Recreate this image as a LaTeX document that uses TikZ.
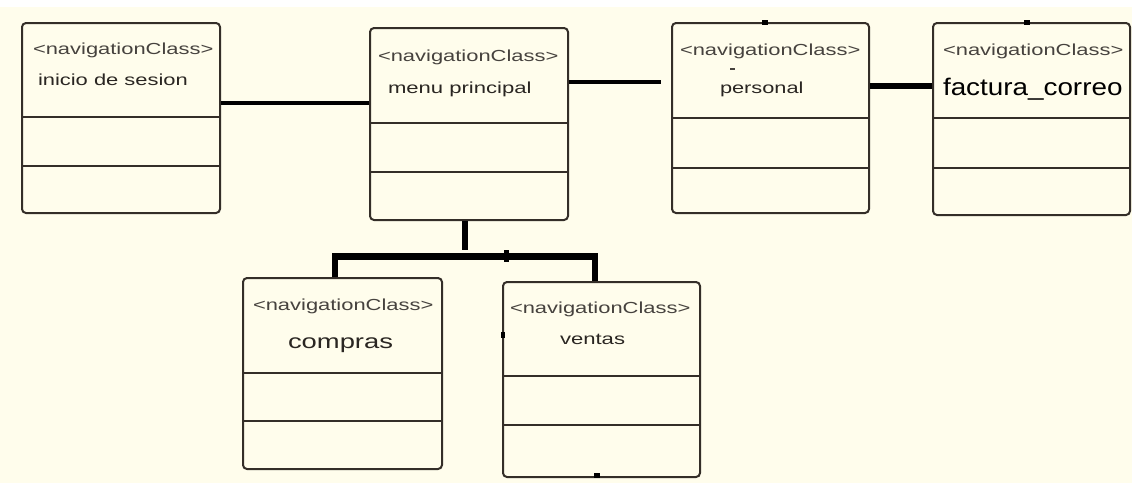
\documentclass[tikz,border=0pt]{standalone}
\usepackage{graphicx}
\usepackage{fontspec}
\setmainfont{Liberation Sans}
\definecolor{paper}{RGB}{255,253,236}
\definecolor{edge}{RGB}{52,46,40}
\definecolor{stereo}{RGB}{70,66,62}
\definecolor{cname}{RGB}{42,38,34}
% stretched sans text: #1 horizontal factor, #2 size, #3 text
\newcommand\stx[3]{\scalebox{#1}[1]{\fontsize{#2}{#2}\selectfont #3}}
\tikzset{
  umlbox/.style={draw=edge, line width=2pt, rounded corners=4pt, fill=paper, inner sep=0pt},
  divider/.style={draw=edge, line width=2pt},
  lbl/.style={anchor=base west, inner sep=0pt, outer sep=0pt},
  stereolbl/.style={lbl, text=stereo},
  namelbl/.style={lbl, text=cname},
  link/.style={draw=black, line width=5pt, line join=miter},
}
\begin{document}
\begin{tikzpicture}[x=1pt, y=-1pt]
\useasboundingbox (0,0) rectangle (1132,483);
\fill[white] (0,0) rectangle (1132,483);
\fill[paper] (0,7) rectangle (1132,483);

% class boxes
\node[umlbox, minimum width=198pt, minimum height=190pt] (inicio) at (121,118) {};
\node[umlbox, minimum width=198pt, minimum height=192pt] (menu) at (469,124) {};
\node[umlbox, minimum width=197pt, minimum height=190pt] (personal) at (770.5,118) {};
\node[umlbox, minimum width=197pt, minimum height=192pt] (factura) at (1031.5,119) {};
\node[umlbox, minimum width=199pt, minimum height=191pt] (compras) at (342.5,373.5) {};
\node[umlbox, minimum width=197pt, minimum height=195pt] (ventas) at (601.5,379.5) {};

% compartment dividers
\draw[divider] (inicio.west |- 0,117) -- (inicio.east |- 0,117);
\draw[divider] (inicio.west |- 0,166) -- (inicio.east |- 0,166);
\draw[divider] (menu.west |- 0,123) -- (menu.east |- 0,123);
\draw[divider] (menu.west |- 0,172) -- (menu.east |- 0,172);
\draw[divider] (personal.west |- 0,118) -- (personal.east |- 0,118);
\draw[divider] (personal.west |- 0,168) -- (personal.east |- 0,168);
\draw[divider] (factura.west |- 0,118) -- (factura.east |- 0,118);
\draw[divider] (factura.west |- 0,168) -- (factura.east |- 0,168);
\draw[divider] (compras.west |- 0,373) -- (compras.east |- 0,373);
\draw[divider] (compras.west |- 0,421) -- (compras.east |- 0,421);
\draw[divider] (ventas.west |- 0,376) -- (ventas.east |- 0,376);
\draw[divider] (ventas.west |- 0,425) -- (ventas.east |- 0,425);

% labels
\node[stereolbl] (s1) at (33,54) {\stx{1.37}{16}{<navigationClass>}};
\node[namelbl] (n1) at (38,85) {\stx{1.37}{16}{inicio de sesion}};
\node[stereolbl] (s2) at (378,61) {\stx{1.37}{16}{<navigationClass>}};
\node[namelbl] (n2) at (388,93) {\stx{1.38}{16}{menu principal}};
\node[stereolbl] (s3) at (680,55) {\stx{1.37}{16}{<navigationClass>}};
\node[namelbl] (n3) at (720,93) {\stx{1.36}{16}{personal}};
\node[stereolbl] (s4) at (943,55) {\stx{1.37}{16}{<navigationClass>}};
\node[lbl, text=black] (n4) at (943,95) {\stx{1.16}{24}{factura\_correo}};
\node[stereolbl] (s5) at (253,310) {\stx{1.37}{16}{<navigationClass>}};
\node[namelbl] (n5) at (288,348) {\stx{1.37}{20}{compras}};
\node[stereolbl] (s6) at (510,313) {\stx{1.37}{16}{<navigationClass>}};
\node[namelbl] (n6) at (560,344) {\stx{1.38}{16}{ventas}};
\fill[stereo] (730,68) rectangle (735,69.5);

% associations
\draw[link, line width=4pt] (inicio.east |- 0,103) -- (menu.west |- 0,103);
\draw[link, line width=4.5pt, shorten >=10pt] (menu.east |- 0,82) -- (personal.west |- 0,82);
\draw[link, line width=6pt] (personal.east |- 0,86) -- (factura.west |- 0,86);

% branch to compras and ventas
\coordinate (hub) at (465,250);
\coordinate (jl) at (335,256.5);
\coordinate (jr) at (595,256.5);
\draw[link, line width=6pt] (menu.south -| hub) -- (hub);
\draw[link, line width=6.5pt] (compras.north -| jl) -- (jl) -- (jr) -- (ventas.north -| jr);
\fill (503.5,250) rectangle (509,262);

% small end marks on the box outlines
\fill (762,20) rectangle (768,25);
\fill (1024,20) rectangle (1030,25);
\fill (594,473) rectangle (600,478);
\fill (501,332) rectangle (505,338);
\end{tikzpicture}
\end{document}
